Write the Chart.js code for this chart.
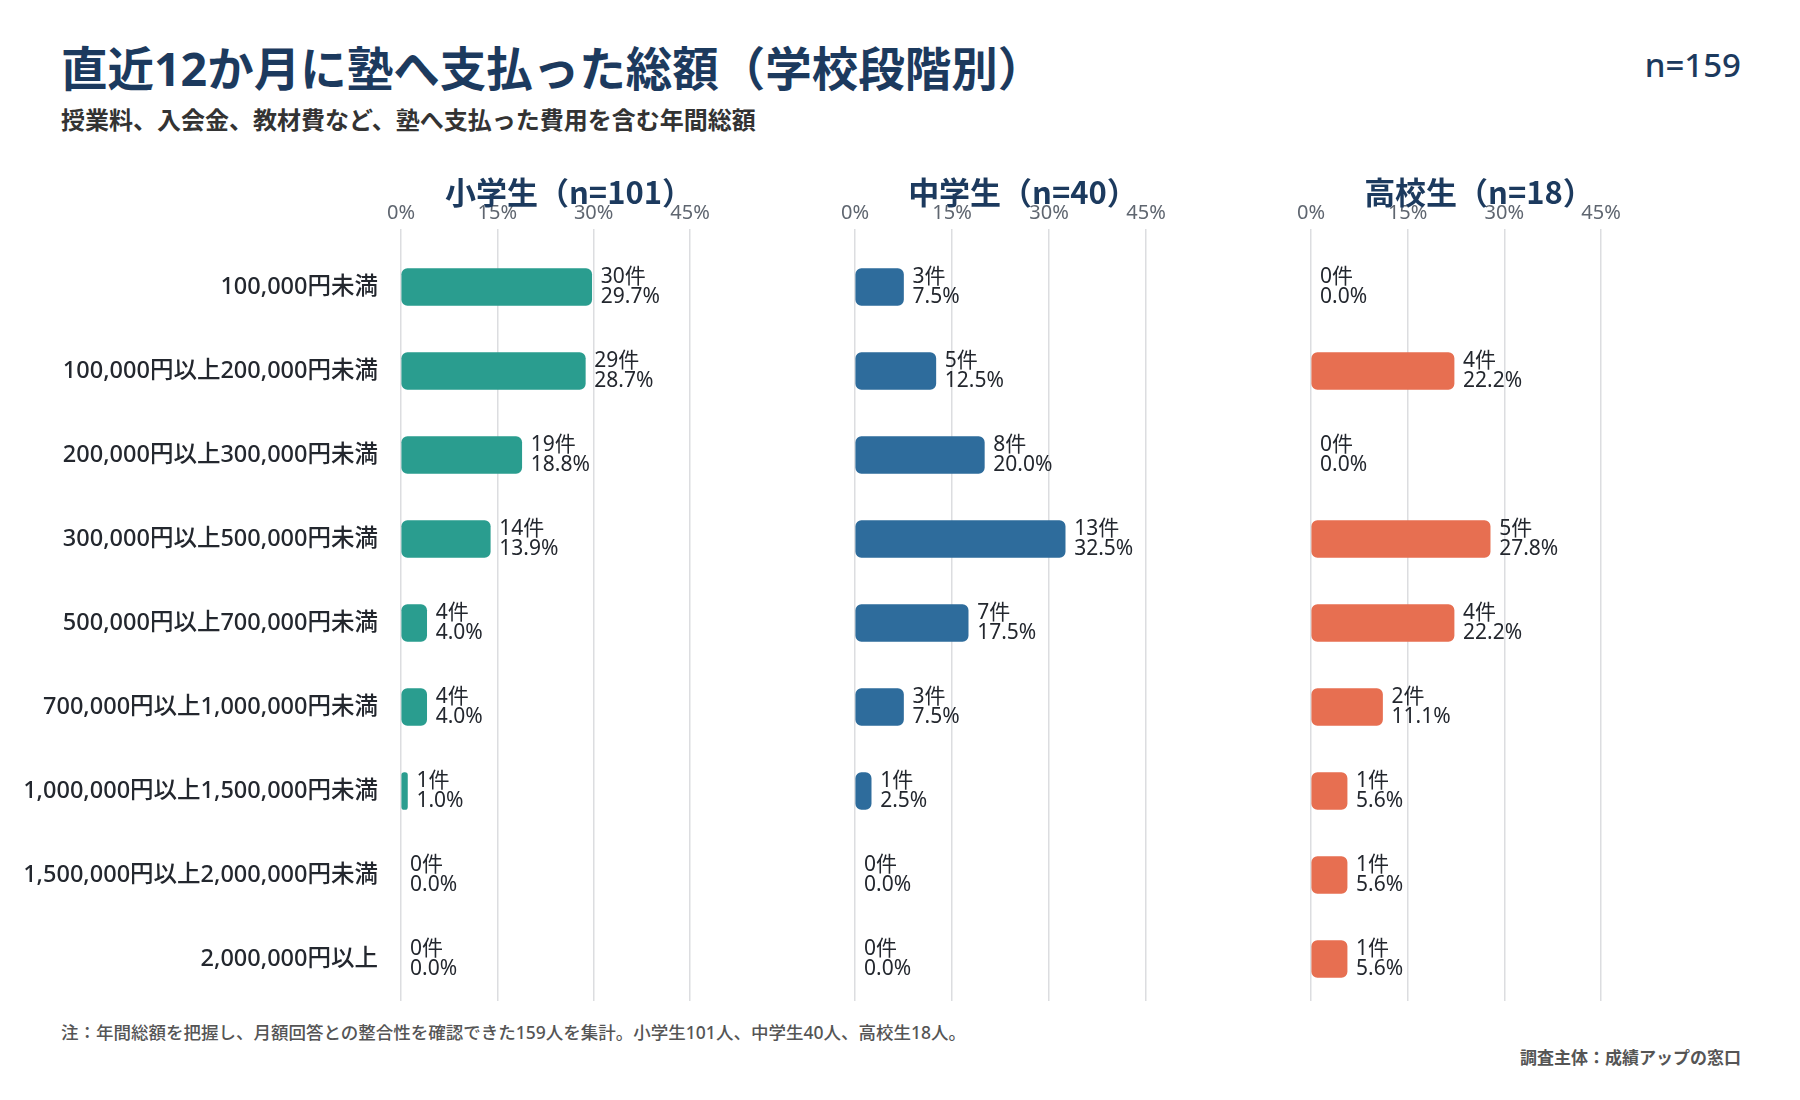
<!DOCTYPE html>
<html lang="ja">
<head>
<meta charset="utf-8">
<title>直近12か月に塾へ支払った総額（学校段階別）</title>
<script src="https://cdn.jsdelivr.net/npm/chart.js@4.4.1/dist/chart.umd.min.js"></script>
<style>
  html, body { margin: 0; padding: 0; background: #fff; }
  body {
    width: 1800px; height: 1100px; position: relative; overflow: hidden;
    font-family: "Noto Sans", "Noto Sans CJK JP", sans-serif;
  }
  .txt { position: absolute; white-space: nowrap; line-height: 1.2; }
  .title { left: 61px; top: 41px; font-size: 46.5px; font-weight: 700; color: #1c3a5e; }
  .subtitle { left: 61px; top: 106px; font-size: 24px; font-weight: 600; color: #333; }
  .ntotal { right: 59px; top: 45px; font-size: 33px; font-weight: 500; color: #1c3a5e; }
  .panel-title { top: 172px; font-size: 31px; font-weight: 700; color: #1c3a5e; transform: translateX(-50%); z-index: 2;
    font-family: "Noto Sans CJK JP", sans-serif; }
  .note { left: 61px; top: 1022px; font-size: 17.5px; font-weight: 500; color: #555; }
  .source { right: 59px; top: 1048px; font-size: 17px; font-weight: 600; color: #555; }
  .chart-box { position: absolute; top: 180px; height: 830px; }
</style>
</head>
<body>
  <div class="txt title">直近12か月に塾へ支払った総額（学校段階別）</div>
  <div class="txt subtitle">授業料、入会金、教材費など、塾へ支払った費用を含む年間総額</div>
  <div class="txt ntotal">n=159</div>

  <div class="chart-box" style="left:0px;width:760px;"><canvas id="chartElem"></canvas></div>
  <div class="chart-box" style="left:835px;width:381px;"><canvas id="chartJunior"></canvas></div>
  <div class="chart-box" style="left:1291px;width:380px;"><canvas id="chartHigh"></canvas></div>

  <div class="txt panel-title" style="left:569px;">小学生（n=101）</div>
  <div class="txt panel-title" style="left:1023px;">中学生（n=40）</div>
  <div class="txt panel-title" style="left:1479px;">高校生（n=18）</div>

  <div class="txt note">注：年間総額を把握し、月額回答との整合性を確認できた159人を集計。小学生101人、中学生40人、高校生18人。</div>
  <div class="txt source">調査主体：成績アップの窓口</div>

<script>
// カテゴリ（年間総額の区分）
const categories = [
  '100,000円未満',
  '100,000円以上200,000円未満',
  '200,000円以上300,000円未満',
  '300,000円以上500,000円未満',
  '500,000円以上700,000円未満',
  '700,000円以上1,000,000円未満',
  '1,000,000円以上1,500,000円未満',
  '1,500,000円以上2,000,000円未満',
  '2,000,000円以上'
];

// 小学生
const elemCounts = [30, 29, 19, 14, 4, 4, 1, 0, 0];
const elemPct = [29.7, 28.7, 18.8, 13.9, 4.0, 4.0, 1.0, 0.0, 0.0];

// 中学生
const juniorCounts = [3, 5, 8, 13, 7, 3, 1, 0, 0];
const juniorPct = [7.5, 12.5, 20.0, 32.5, 17.5, 7.5, 2.5, 0.0, 0.0];

// 高校生
const highCounts = [0, 4, 0, 5, 4, 2, 1, 1, 1];
const highPct = [0.0, 22.2, 0.0, 27.8, 22.2, 11.1, 5.6, 5.6, 5.6];

// x軸の目盛り
const tickValues = [0, 15, 30, 45];

const FONT = '"Noto Sans", "Noto Sans CJK JP", sans-serif';

// 棒の右に「件数 / 割合」を2行で描く
const barLabels = {
  id: 'barLabels',
  afterDatasetsDraw(chart) {
    const ctx = chart.ctx;
    const counts = chart.options.plugins.barLabels.counts;
    const meta = chart.getDatasetMeta(0);
    ctx.save();
    ctx.font = '21px ' + FONT;
    ctx.fillStyle = '#23272e';
    ctx.textAlign = 'left';
    ctx.textBaseline = 'middle';
    meta.data.forEach((bar, i) => {
      const v = chart.data.datasets[0].data[i];
      const x = bar.x + 9;
      ctx.fillText(counts[i] + '件', x, bar.y - 10);
      ctx.fillText(v.toFixed(1) + '%', x, bar.y + 10);
    });
    ctx.restore();
  }
};

const renderChart = (canvasId, pct, counts, color, showLabels, padLeft) => {
  const ctx = document.getElementById(canvasId).getContext('2d');
  return new Chart(ctx, {
    type: 'bar',
    data: {
      labels: categories,
      datasets: [{
        data: pct,
        // 0% の行は棒を描かない
        backgroundColor: (c) => (c.raw > 0 ? color : 'rgba(0,0,0,0)'),
        borderRadius: 6,
        borderSkipped: false,
        barThickness: 37,
      }],
    },
    options: {
      indexAxis: 'y',
      responsive: true,
      maintainAspectRatio: false,
      animation: false,
      layout: { padding: { left: padLeft, right: 70, top: 0, bottom: 9 } },
      plugins: {
        legend: { display: false },
        tooltip: { enabled: false },
        barLabels: { counts },
      },
      scales: {
        x: {
          position: 'top',
          min: 0,
          max: 45,
          afterBuildTicks: (axis) => { axis.ticks = tickValues.map((v) => ({ value: v })); },
          afterFit: (axis) => { axis.height = 65; },
          ticks: {
            padding: 4,
            color: '#5f6670',
            font: { size: 20, family: FONT },
            callback: (v) => v + '%',
          },
          grid: { color: '#dcdde0', lineWidth: 1.5, tickLength: 16, drawTicks: true },
          border: { display: false },
        },
        y: {
          display: showLabels,
          afterFit: (axis) => {
            if (showLabels) axis.width = 401;
            axis.paddingTop = 0;
            axis.paddingBottom = 0;
          },
          ticks: {
            padding: 23,
            color: '#23272e',
            font: { size: 23.5, weight: '500', family: FONT },
          },
          grid: { display: false, drawTicks: false },
          border: { display: false },
        },
      },
    },
    plugins: [barLabels],
  });
};

renderChart('chartElem', elemPct, elemCounts, '#2a9d8f', true, 0);
renderChart('chartJunior', juniorPct, juniorCounts, '#2e6c9c', false, 20);
renderChart('chartHigh', highPct, highCounts, '#e76f51', false, 20);
</script>
</body>
</html>
